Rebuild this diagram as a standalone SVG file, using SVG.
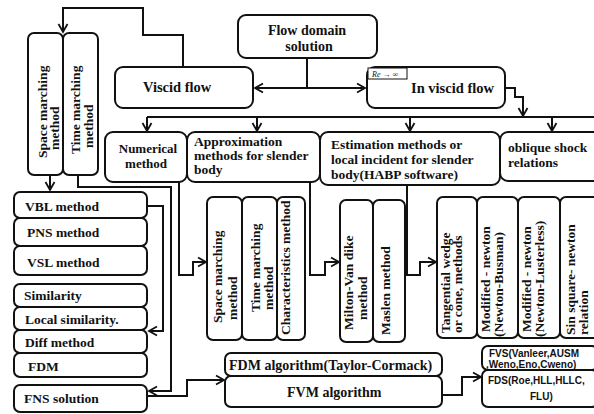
<svg xmlns="http://www.w3.org/2000/svg" width="594" height="414" viewBox="0 0 594 414">
<defs>
<style>
.b{fill:#fff;stroke:#111;stroke-width:2}
.t{font-family:"Liberation Serif","Times New Roman",serif;font-weight:bold;font-size:13.5px;fill:#111}
.m{font-size:14px}
.l{font-size:14.5px}
.n{font-size:13px}
.s{font-family:"Liberation Sans",Arial,sans-serif;font-weight:bold;font-size:10px;fill:#111}
.c{fill:none;stroke:#111;stroke-width:2}
</style>
<marker id="ah" markerUnits="userSpaceOnUse" markerWidth="12" markerHeight="12" refX="10" refY="6" orient="auto-start-reverse">
<path d="M2,1.5 L10,6 L2,10.5" fill="none" stroke="#111" stroke-width="1.8"/>
</marker>
</defs>
<rect width="594" height="414" fill="#fff"/>

<g id="connectors">
<path class="c" d="M307,58 V88"/>
<path class="c" d="M255,88 H365" marker-start="url(#ah)" marker-end="url(#ah)"/>
<path class="c" d="M183,67 V35 H143 V8 H63 V32" marker-end="url(#ah)"/>
<path class="c" d="M505,88 H515 V97 H523 V116" marker-end="url(#ah)"/>
<path class="c" d="M147,117 H594"/>
<path class="c" d="M147,117 V131" marker-end="url(#ah)"/>
<path class="c" d="M257,117 V131" marker-end="url(#ah)"/>
<path class="c" d="M410,117 V131" marker-end="url(#ah)"/>
<path class="c" d="M552,117 V131" marker-end="url(#ah)"/>
<path class="c" d="M50,175 V190" marker-end="url(#ah)"/>
<path class="c" d="M78,175 V187 H171 V391 H149" marker-end="url(#ah)"/>
<path class="c" d="M147,206 H163 V331 H149" marker-end="url(#ah)"/>
<path class="c" d="M179,182 V275 H193 V262 H206" marker-end="url(#ah)"/>
<path class="c" d="M310,182 V275 H325 V262 H339" marker-end="url(#ah)"/>
<path class="c" d="M407,185 V275 H420 V262 H436" marker-end="url(#ah)"/>
<path class="c" d="M147,396 H187 V380 H224" marker-end="url(#ah)"/>
<path class="c" d="M442,395 H462 V377 H481" marker-end="url(#ah)"/>
</g>

<g id="flow-domain">
<rect class="b" x="238" y="15" width="139" height="43" rx="8"/>
<text class="t m" x="307" y="35" text-anchor="middle">Flow domain</text>
<text class="t m" x="309" y="51" text-anchor="middle">solution</text>
</g>

<g id="viscid">
<rect class="b" x="115" y="67" width="138" height="41" rx="8"/>
<text class="t l" x="143" y="92">Viscid flow</text>
</g>

<g id="inviscid">
<rect class="b" x="367" y="67" width="138" height="41" rx="8"/>
<rect x="368" y="68" width="39" height="11" fill="#fff" stroke="#111" stroke-width="1"/>
<text x="372" y="76.5" font-family="Liberation Serif,serif" font-style="italic" font-size="8" fill="#111">Re → ∞</text>
<text class="t l" x="411" y="93">In viscid flow</text>
</g>

<g id="space-marching-left">
<rect class="b" x="28" y="33" width="35" height="142" rx="6"/>
<text class="t" transform="translate(47,158) rotate(-90)">Space marching</text>
<text class="t" transform="translate(59,150) rotate(-90)">method</text>
</g>
<g id="time-marching-left">
<rect class="b" x="63" y="33" width="35" height="142" rx="6"/>
<text class="t" transform="translate(80,154) rotate(-90)">Time marching</text>
<text class="t" transform="translate(93,148) rotate(-90)">method</text>
</g>

<g id="numerical">
<rect class="b" x="105" y="132" width="82" height="50" rx="8"/>
<text class="t n" x="148" y="153" text-anchor="middle">Numerical</text>
<text class="t n" x="146" y="168" text-anchor="middle">method</text>
</g>

<g id="approximation">
<rect class="b" x="187" y="132" width="133" height="50" rx="8"/>
<text class="t" x="194" y="146">Approximation</text>
<text class="t" x="194" y="160">methods for slender</text>
<text class="t" x="194" y="174">body</text>
</g>

<g id="estimation">
<rect class="b" x="320" y="132" width="180" height="53" rx="8"/>
<text class="t" x="331" y="149">Estimation methods or</text>
<text class="t" x="331" y="164">local incident for slender</text>
<text class="t" x="331" y="179">body(HABP software)</text>
</g>

<g id="oblique">
<rect class="b" x="500" y="132" width="104" height="49" rx="8"/>
<text class="t" x="508" y="152">oblique shock</text>
<text class="t" x="508" y="167">relations</text>
</g>

<g id="vbl"><rect class="b" x="14" y="192" width="133" height="26" rx="6"/><text class="t" x="25" y="211">VBL method</text></g>
<g id="pns"><rect class="b" x="14" y="218" width="133" height="28" rx="6"/><text class="t" x="27" y="237">PNS method</text></g>
<g id="vsl"><rect class="b" x="14" y="246" width="133" height="29" rx="6"/><text class="t" x="27" y="267">VSL method</text></g>
<g id="similarity"><rect class="b" x="14" y="284" width="133" height="23" rx="6"/><text class="t" x="24" y="300">Similarity</text></g>
<g id="local-similarity"><rect class="b" x="14" y="307" width="133" height="23" rx="6"/><text class="t" x="25" y="324">Local similarity.</text></g>
<g id="diff-method"><rect class="b" x="14" y="330" width="133" height="23" rx="6"/><text class="t" x="25" y="347">Diff method</text></g>
<g id="fdm"><rect class="b" x="14" y="353" width="133" height="24" rx="6"/><text class="t" x="28" y="371">FDM</text></g>
<g id="fns"><rect class="b" x="14" y="385" width="133" height="27" rx="6"/><text class="t" x="24" y="403">FNS solution</text></g>

<g id="space-marching-mid">
<rect class="b" x="207" y="197" width="35" height="143" rx="6"/>
<text class="t" transform="translate(222,323) rotate(-90)">Space marching</text>
<text class="t" transform="translate(237,320) rotate(-90)">method</text>
</g>
<g id="time-marching-mid">
<rect class="b" x="242" y="197" width="35" height="143" rx="6"/>
<text class="t" transform="translate(260,312) rotate(-90)">Time marching</text>
<text class="t" transform="translate(273,310) rotate(-90)">method</text>
</g>
<g id="characteristics">
<rect class="b" x="277" y="197" width="28" height="143" rx="6"/>
<text class="t" transform="translate(290,335) rotate(-90)">Characteristics method</text>
</g>

<g id="milton">
<rect class="b" x="340" y="200" width="33" height="142" rx="6"/>
<text class="t" transform="translate(353,330) rotate(-90)">Milton-Van dike</text>
<text class="t" transform="translate(367,320) rotate(-90)">method</text>
</g>
<g id="maslen">
<rect class="b" x="373" y="200" width="32" height="142" rx="6"/>
<text class="t" transform="translate(390,335) rotate(-90)">Maslen method</text>
</g>

<g id="tangential">
<rect class="b" x="437" y="197" width="40" height="141" rx="6"/>
<text class="t" transform="translate(450,333) rotate(-90)">Tangential  wedge</text>
<text class="t" transform="translate(462,333) rotate(-90)">or cone, methods</text>
</g>
<g id="modified-busman">
<rect class="b" x="477" y="197" width="41" height="141" rx="6"/>
<text class="t" transform="translate(490,332) rotate(-90)">Modified - newton</text>
<text class="t" transform="translate(503,337) rotate(-90)">(Newton-Busman)</text>
</g>
<g id="modified-lusterless">
<rect class="b" x="518" y="197" width="42" height="141" rx="6"/>
<text class="t" transform="translate(531,332) rotate(-90)">Modified - newton</text>
<text class="t" transform="translate(544,337) rotate(-90)">(Newton-Lusterless)</text>
</g>
<g id="sin-square">
<rect class="b" x="560" y="197" width="40" height="141" rx="6"/>
<text class="t" transform="translate(575,335) rotate(-90)">Sin square- newton</text>
<text class="t" transform="translate(588,335) rotate(-90)">relation</text>
</g>

<g id="fdm-algorithm">
<rect class="b" x="225" y="353" width="217" height="23" rx="6"/>
<text class="t m" x="229" y="370">FDM algorithm(Taylor-Cormack)</text>
</g>
<g id="fvm-algorithm">
<rect class="b" x="225" y="376" width="217" height="31" rx="6"/>
<text class="t m" x="287" y="397">FVM algorithm</text>
</g>

<g id="fvs">
<rect class="b" x="482" y="346" width="116" height="24" rx="6"/>
<text class="s" x="489" y="357">FVS(Vanleer,AUSM</text>
<text class="s" x="486" y="368">,Weno,Eno,Cweno)</text>
</g>
<g id="fds">
<rect class="b" x="482" y="370" width="116" height="37" rx="6"/>
<text class="s" x="488" y="384">FDS(Roe,HLL,HLLC,</text>
<text class="s" x="530" y="400">FLU)</text>
</g>
</svg>
